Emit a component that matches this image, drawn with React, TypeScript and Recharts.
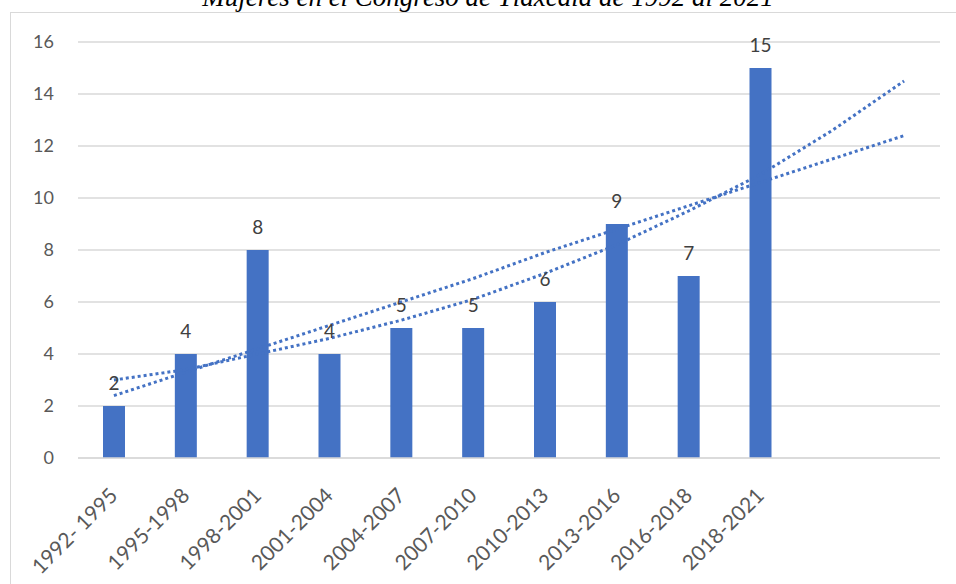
import React from 'react'
import { ComposedChart, Bar, Line, XAxis, YAxis, CartesianGrid, LabelList } from 'recharts'

const periods = [
    '1992- 1995', '1995-1998', '1998-2001', '2001-2004', '2004-2007',
    '2007-2010', '2010-2013', '2013-2016', '2016-2018', '2018-2021', '', ' ',
]
const mujeres = [2, 4, 8, 4, 5, 5, 6, 9, 7, 15, null, null]
// the two dotted trend lines at every slot
const trendLineal = [2.4, 3.3, 4.2, 5.1, 6.0, 6.9, 7.9, 8.8, 9.7, 10.6, 11.5, 12.4]
const trendExp = [3.0, 3.4, 4.0, 4.6, 5.3, 6.1, 7.1, 8.2, 9.5, 10.9, 12.6, 14.5]
const yTicks = [0, 2, 4, 6, 8, 10, 12, 14, 16]

const BLUE = '#4472C4'
const FONT = 'Lato, "Open Sans", sans-serif'

const data = periods.map((p, i) => ({
    periodo: p,
    mujeres: mujeres[i],
    lineal: trendLineal[i],
    exp: trendExp[i],
}))

const AngledTick = (props: any) => {
    const { x, y, payload } = props
    return (
        <g transform={`translate(${x + 5},${y + 31})`}>
            <text
                textAnchor="end"
                transform="rotate(-45)"
                fill="#595959"
                fontSize={21}
                fontFamily={FONT}
            >
                {payload.value}
            </text>
        </g>
    )
}

export default function App() {
    return (
        <div style={{ position: 'absolute', left: 0, top: 0, width: 956, height: 584, overflow: 'hidden', background: '#fff' }}>
            <div style={{
                position: 'absolute', left: 10, top: 12, width: 950, height: 580,
                border: '1px solid #d9d9d9', boxSizing: 'border-box',
            }} />
            <div style={{
                position: 'absolute', left: 0, width: 976, top: -16, textAlign: 'center',
                fontFamily: '"Liberation Serif", serif', fontStyle: 'italic', fontSize: 27, lineHeight: 1,
                color: '#000', whiteSpace: 'nowrap',
            }}>
                Mujeres en el Congreso de Tlaxcala de 1992 al 2021
            </div>
            <ComposedChart
                width={956}
                height={584}
                data={data}
                margin={{ top: 42, right: 16, bottom: 0, left: 0 }}
                style={{ position: 'absolute', left: 0, top: 0 }}
            >
                <CartesianGrid vertical={false} stroke="#d9d9d9" strokeWidth={1.5} />
                <XAxis
                    dataKey="periodo"
                    height={126}
                    interval={0}
                    tickLine={false}
                    axisLine={{ stroke: '#d9d9d9', strokeWidth: 1.5 }}
                    tick={<AngledTick />}
                />
                <YAxis
                    width={78}
                    domain={[0, 16]}
                    ticks={yTicks}
                    tickLine={false}
                    axisLine={false}
                    tickSize={0}
                    tickMargin={24}
                    tick={{ fill: '#595959', fontSize: 18, fontFamily: FONT }}
                />
                <Bar dataKey="mujeres" fill={BLUE} barSize={22} isAnimationActive={false}>
                    <LabelList dataKey="mujeres" position="top" offset={16} fill="#404040" fontSize={19} fontFamily={FONT} />
                </Bar>
                <Line dataKey="lineal" stroke={BLUE} strokeWidth={3} strokeDasharray="3 3" dot={false} activeDot={false} isAnimationActive={false} />
                <Line dataKey="exp" stroke={BLUE} strokeWidth={3} strokeDasharray="3 3" dot={false} activeDot={false} isAnimationActive={false} />
            </ComposedChart>
        </div>
    )
}
